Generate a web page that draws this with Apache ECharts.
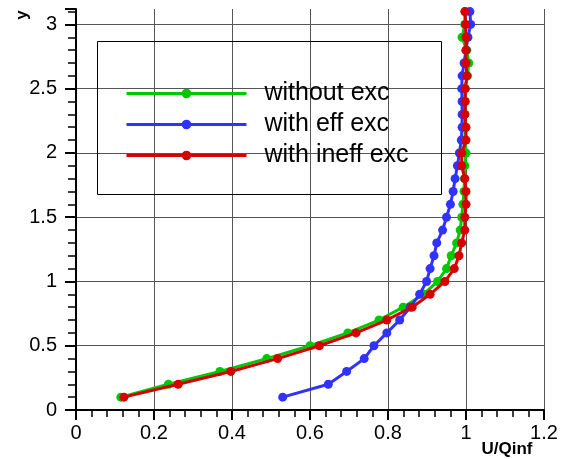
<!DOCTYPE html>
<html>
<head>
<meta charset="utf-8">
<title>U/Qinf profile</title>
<script src="https://cdn.jsdelivr.net/npm/echarts@6/dist/echarts.min.js"></script>
<style>
  html, body { margin: 0; padding: 0; background: #fff; }
  #chart { width: 565px; height: 459px; }
</style>
</head>
<body>
<div id="chart"></div>
<script>
// y stations (one point every 0.1)
var yLevels = [0.1, 0.2, 0.3, 0.4, 0.5, 0.6, 0.7, 0.8, 0.9, 1.0,
  1.1, 1.2, 1.3, 1.4, 1.5, 1.6, 1.7, 1.8, 1.9, 2.0,
  2.1, 2.2, 2.3, 2.4, 2.5, 2.6, 2.7, 2.8, 2.9, 3.0, 3.1]

// U/Qinf for each case
var withoutExc = [0.115, 0.237, 0.369, 0.489, 0.600, 0.697, 0.777, 0.839, 0.891, 0.927,
  0.950, 0.962, 0.976, 0.985, 0.989, 0.992, 0.995, 0.996, 0.997, 1.000,
  0.998, 0.998, 0.997, 0.997, 0.998, 1.004, 1.007, 1.002, 0.990, 0.997, 0.998]
var withEffExc = [0.530, 0.647, 0.694, 0.739, 0.764, 0.797, 0.830, 0.857, 0.881, 0.899,
  0.908, 0.918, 0.925, 0.940, 0.950, 0.960, 0.967, 0.972, 0.978, 0.983,
  0.988, 0.990, 0.990, 0.990, 0.989, 0.990, 0.995, 1.000, 1.005, 1.012, 1.010]
var withIneffExc = [0.123, 0.262, 0.397, 0.517, 0.624, 0.718, 0.797, 0.862, 0.908, 0.946,
  0.970, 0.982, 0.989, 0.997, 0.997, 1.000, 1.000, 0.997, 0.989, 0.989,
  1.000, 1.000, 0.997, 0.998, 0.998, 1.002, 1.000, 1.000, 1.000, 0.999, 0.997]

var seriesNames = ['without exc', 'with eff exc', 'with ineff exc']
var seriesColors = ['#00c800', '#3232ff', '#d70000']

function pairs(xs) {
  return xs.map(function (x, i) { return [x, yLevels[i]] })
}

var font = 'Arial, "Liberation Sans", sans-serif'
var chart = echarts.init(document.getElementById('chart'), null, { renderer: 'canvas' })

var lines = [withoutExc, withEffExc, withIneffExc]
var series = lines.map(function (xs, i) {
  return {
    name: seriesNames[i],
    type: 'line',
    data: pairs(xs),
    symbol: 'circle',
    symbolSize: 9,
    showSymbol: true,
    animation: false,
    itemStyle: { color: seriesColors[i] },
    lineStyle: { color: seriesColors[i], width: 3 },
    z: 3 + i
  }
})

// one legend per entry so each row sits where it should
var legendTops = [81, 112, 143]
var legends = seriesNames.map(function (name, i) {
  return {
    data: [name],
    left: 125,
    top: legendTops[i],
    padding: 0,
    itemWidth: 120,
    itemHeight: 12,
    selectedMode: false,
    lineStyle: { width: 3 },
    textStyle: { fontSize: 25, fontFamily: font, color: '#000', padding: [4, 0, 0, 13] }
  }
})

chart.setOption({
  backgroundColor: '#fff',
  animation: false,
  grid: {
    left: 76,
    right: 21,
    top: 9,
    bottom: 49,
    outerBoundsMode: 'none'
  },
  legend: legends,
  xAxis: {
    type: 'value',
    min: 0,
    max: 1.2,
    interval: 0.2,
    axisLine: { show: true, onZero: false, lineStyle: { color: '#000', width: 2 } },
    axisTick: { show: true, inside: false, length: 10, lineStyle: { color: '#000', width: 2 } },
    minorTick: { show: true, splitNumber: 5, length: 7, lineStyle: { color: '#000', width: 1.5 } },
    axisLabel: { fontSize: 20, fontFamily: font, color: '#000', margin: 13 },
    splitLine: { show: true, lineStyle: { color: '#555', width: 1 } }
  },
  yAxis: {
    type: 'value',
    min: 0,
    max: 3.12,
    interval: 0.5,
    axisLine: { show: true, onZero: false, lineStyle: { color: '#000', width: 2 } },
    axisTick: { show: true, inside: false, length: 11, lineStyle: { color: '#000', width: 2 } },
    minorTick: { show: true, splitNumber: 5, length: 8, lineStyle: { color: '#000', width: 1.5 } },
    axisLabel: { fontSize: 20, fontFamily: font, color: '#000', margin: 19, showMaxLabel: false },
    splitLine: { show: true, showMaxLine: false, lineStyle: { color: '#555', width: 1 } }
  },
  graphic: [
    {
      type: 'rect',
      shape: { x: 97.5, y: 41.5, width: 344, height: 153 },
      style: { fill: null, stroke: '#000', lineWidth: 1 },
      z: 1
    },
    {
      type: 'text',
      x: 22,
      y: 15,
      rotation: Math.PI / 2,
      style: { text: 'y', font: 'bold 17px ' + font, fill: '#000', align: 'center', verticalAlign: 'middle' }
    },
    {
      type: 'text',
      x: 507,
      y: 449,
      style: { text: 'U/Qinf', font: 'bold 17px ' + font, fill: '#000', align: 'center', verticalAlign: 'middle' },
      z: 10
    }
  ],
  series: series
})
</script>
</body>
</html>
